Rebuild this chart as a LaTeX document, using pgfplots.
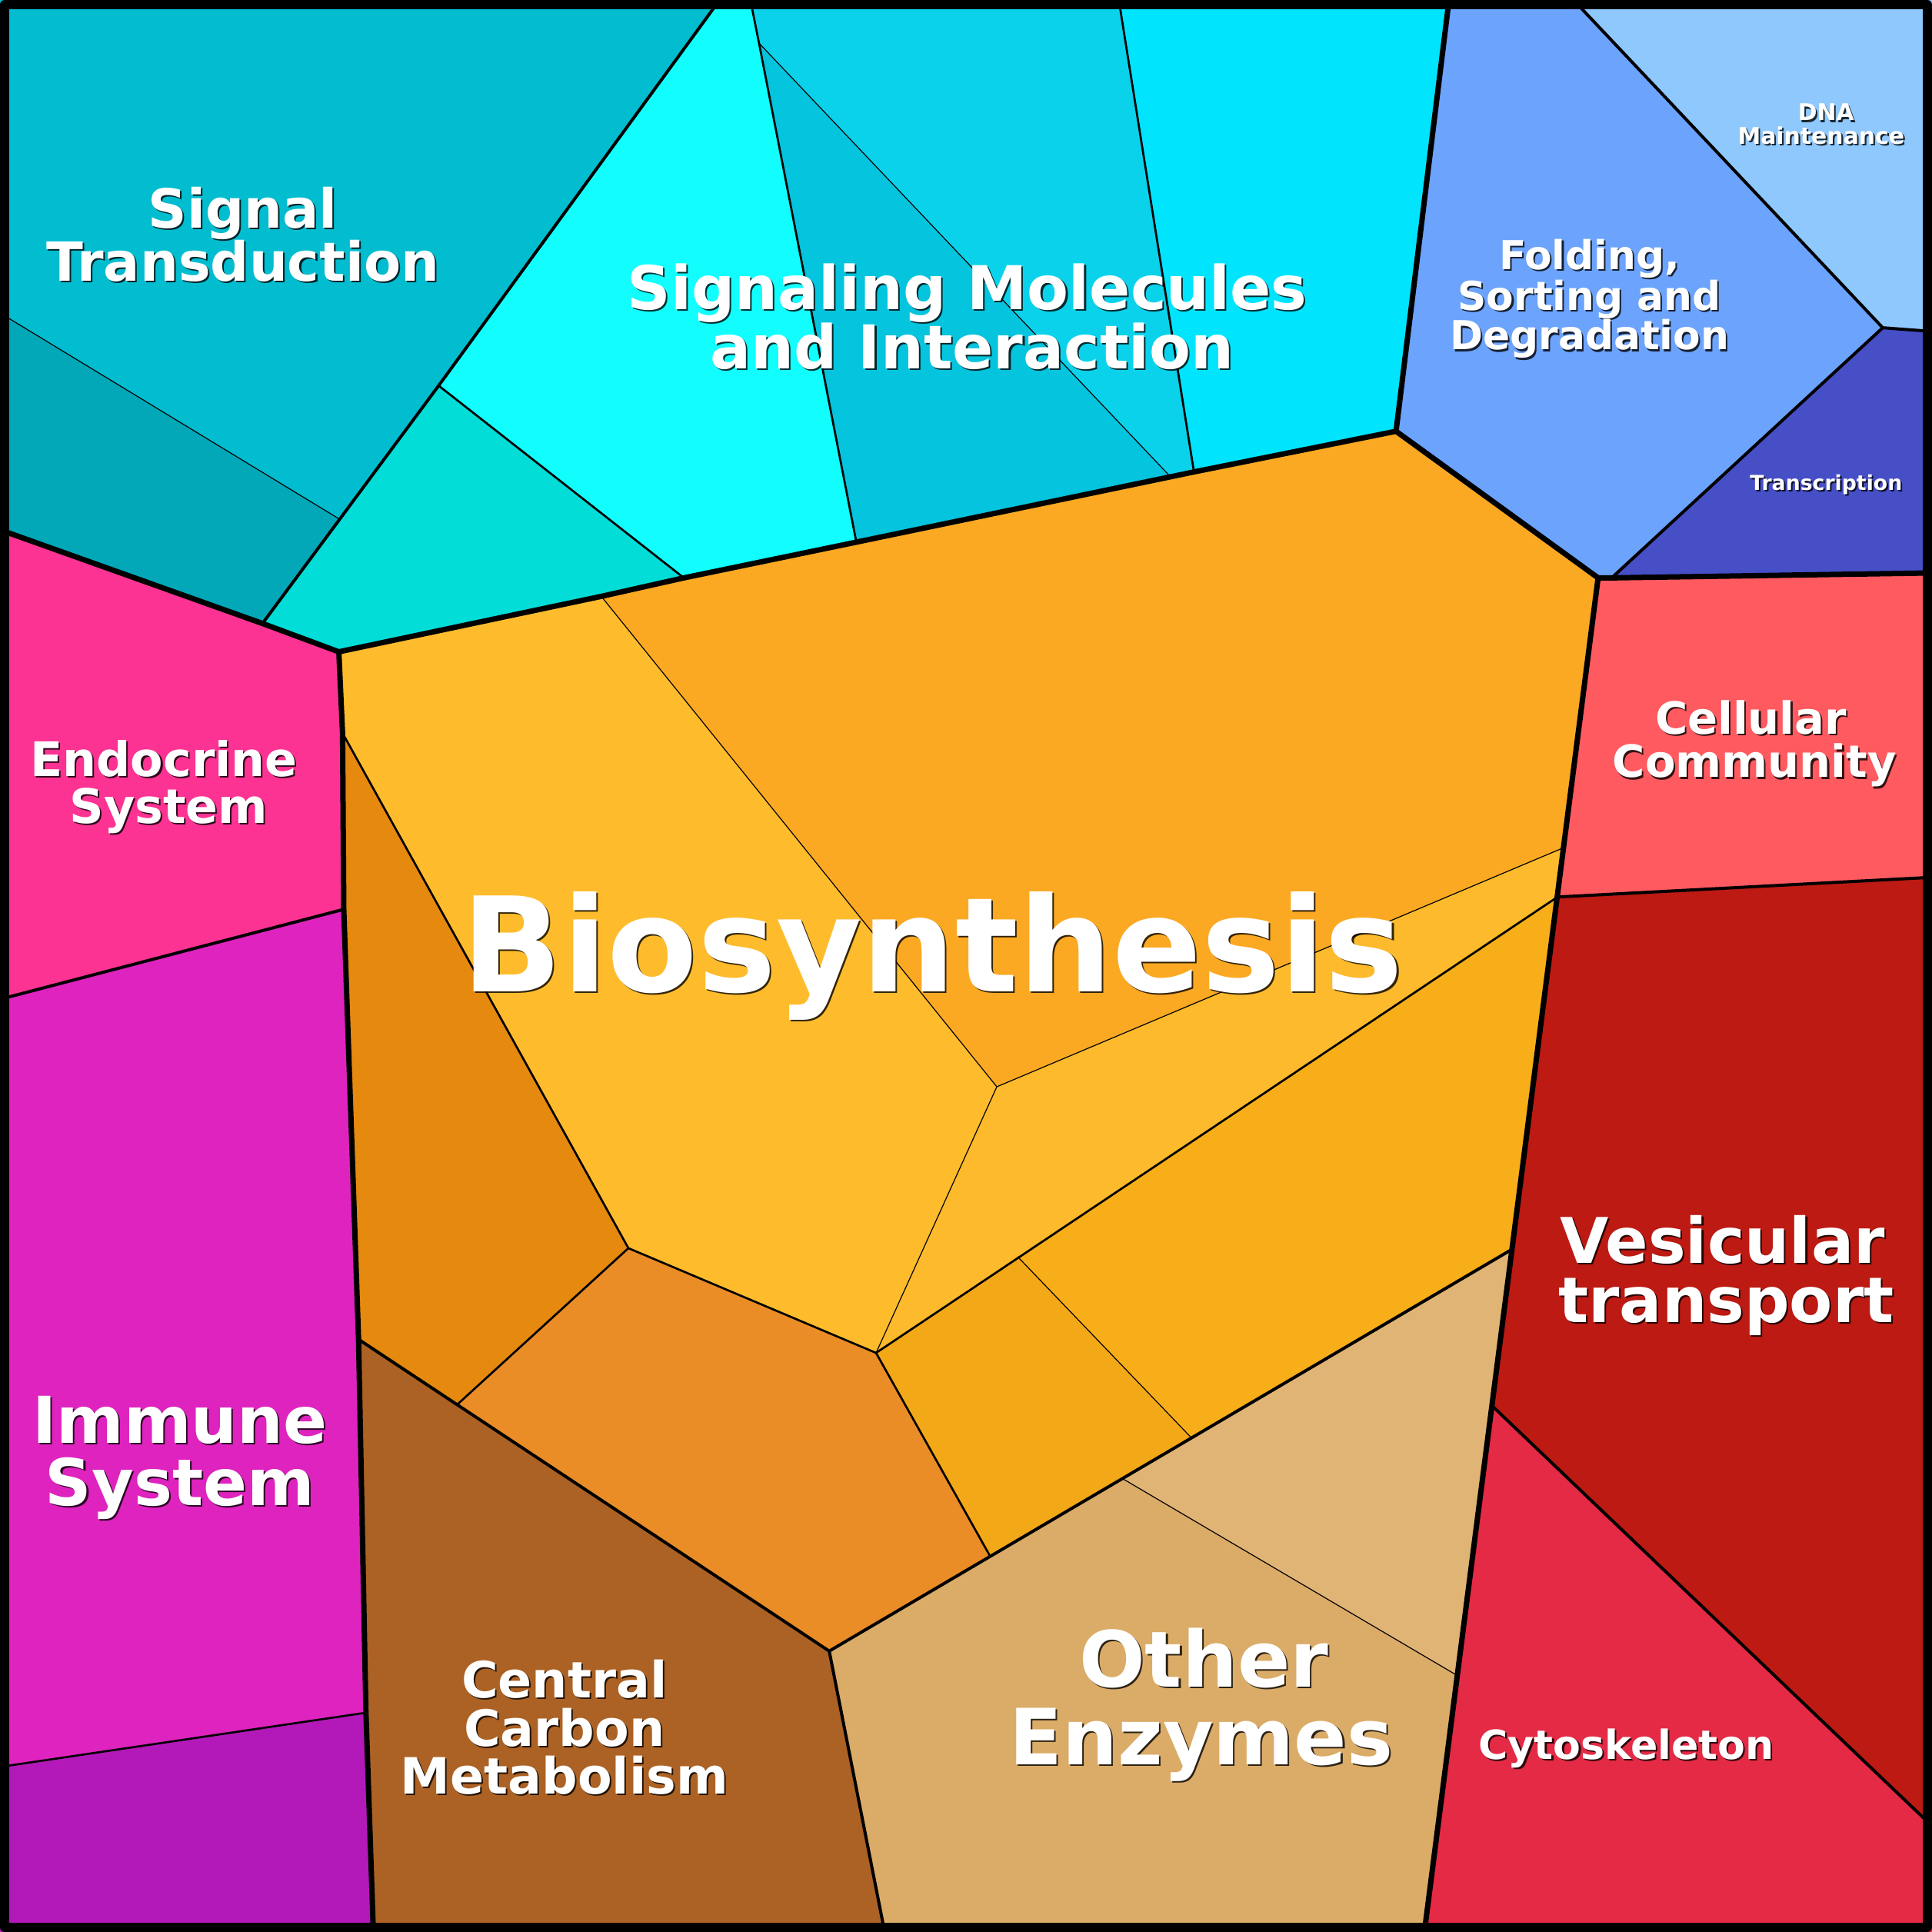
\documentclass[border=0pt]{standalone}
\usepackage{pgfplots}
\pgfplotsset{compat=1.18}
\usepackage{fontspec}
\setmainfont{DejaVu Sans}
\definecolor{cST}{HTML}{02BCCF}
\definecolor{cSTb}{HTML}{03A8B8}
\definecolor{cBC}{HTML}{12FEFE}
\definecolor{cTQ}{HTML}{03DDD8}
\definecolor{cTM}{HTML}{0BD2EB}
\definecolor{cMD}{HTML}{05C4DD}
\definecolor{cRC}{HTML}{00E4FE}
\definecolor{cFO}{HTML}{6CA3FD}
\definecolor{cDNA}{HTML}{8FC8FC}
\definecolor{cTR}{HTML}{464FC6}
\definecolor{cCC}{HTML}{FF5A60}
\definecolor{cVT}{HTML}{BC1A13}
\definecolor{cCY}{HTML}{E42A45}
\definecolor{cOEa}{HTML}{E0B474}
\definecolor{cOEb}{HTML}{DBAB68}
\definecolor{cCCM}{HTML}{AC6224}
\definecolor{cIM}{HTML}{DF23BF}
\definecolor{cIMb}{HTML}{B319B8}
\definecolor{cEN}{HTML}{FC3393}
\definecolor{cB1}{HTML}{FBA923}
\definecolor{cB2}{HTML}{FEBC2D}
\definecolor{cB3}{HTML}{E5890F}
\definecolor{cB4}{HTML}{EA8D27}
\definecolor{cB5}{HTML}{FCBA2C}
\definecolor{cB6}{HTML}{F8AE18}
\definecolor{cB7}{HTML}{F3A817}
\newcommand{\lbl}[4]{%
  \node[anchor=base, inner sep=0pt, text=black, opacity=0.8, font=\fontsize{#3}{#3}\selectfont\bfseries, xshift=0.6pt, yshift=-0.6pt] at (axis cs:#1,#2) {#4};
  \node[anchor=base, inner sep=0pt, text=white, font=\fontsize{#3}{#3}\selectfont\bfseries] at (axis cs:#1,#2) {#4};}
\begin{document}
\begin{tikzpicture}
\begin{axis}[name=ax, width=251.2mm, height=251.2mm, scale only axis,
  xmin=0, xmax=1568, ymin=0, ymax=1568, y dir=reverse, hide axis]
% ---- cells ----
\addplot[fill=cST, draw=none] coordinates {(0,0)(584,0)(356,313)(275,421)(0,254)} --cycle;
\addplot[fill=cSTb, draw=none] coordinates {(0,254)(275,421)(213,506)(0,430)} --cycle;
\addplot[fill=cBC, draw=none] coordinates {(584,0)(609,0)(616,35)(695,440)(555,469)(356,313)} --cycle;
\addplot[fill=cTQ, draw=none] coordinates {(356,313)(555,469)(275,529)(213,506)} --cycle;
\addplot[fill=cTM, draw=none] coordinates {(609,0)(908,0)(969,383)(950,387)(616,35)} --cycle;
\addplot[fill=cMD, draw=none] coordinates {(616,35)(950,387)(695,440)} --cycle;
\addplot[fill=cRC, draw=none] coordinates {(908,0)(1176,0)(1133,350)(969,383)} --cycle;
\addplot[fill=cFO, draw=none] coordinates {(1176,0)(1277,0)(1528,266)(1308,469)(1297,469)(1133,350)} --cycle;
\addplot[fill=cDNA, draw=none] coordinates {(1277,0)(1568,0)(1568,269)(1528,266)} --cycle;
\addplot[fill=cTR, draw=none] coordinates {(1528,266)(1568,269)(1568,465)(1308,469)} --cycle;
\addplot[fill=cCC, draw=none] coordinates {(1297,469)(1568,465)(1568,712)(1264,728)} --cycle;
\addplot[fill=cVT, draw=none] coordinates {(1264,728)(1568,712)(1568,1482)(1211,1141)} --cycle;
\addplot[fill=cCY, draw=none] coordinates {(1211,1141)(1568,1482)(1568,1568)(1156,1568)} --cycle;
\addplot[fill=cOEa, draw=none] coordinates {(1227,1014)(1183,1360)(911,1200)(967,1167)} --cycle;
\addplot[fill=cOEb, draw=none] coordinates {(911,1200)(1183,1360)(1156,1568)(718,1568)(673,1340)(803,1262)} --cycle;
\addplot[fill=cCCM, draw=none] coordinates {(291,1087)(371,1140)(673,1340)(718,1568)(303,1568)} --cycle;
\addplot[fill=cIM, draw=none] coordinates {(0,811)(279,738)(291,1087)(297,1390)(0,1434)} --cycle;
\addplot[fill=cIMb, draw=none] coordinates {(0,1434)(297,1390)(303,1568)(0,1568)} --cycle;
\addplot[fill=cEN, draw=none] coordinates {(0,430)(213,506)(275,529)(278,595)(279,738)(0,811)} --cycle;
\addplot[fill=cB1, draw=none] coordinates {(488,484)(555,469)(695,440)(969,383)(1133,350)(1297,469)(1269,688)(809,882)} --cycle;
\addplot[fill=cB2, draw=none] coordinates {(275,529)(488,484)(809,882)(711,1098)(510,1013)(278,595)} --cycle;
\addplot[fill=cB3, draw=none] coordinates {(278,595)(510,1013)(371,1140)(291,1087)(279,738)} --cycle;
\addplot[fill=cB4, draw=none] coordinates {(371,1140)(510,1013)(711,1098)(803,1262)(673,1340)} --cycle;
\addplot[fill=cB5, draw=none] coordinates {(809,882)(1269,688)(1264,728)(711,1098)} --cycle;
\addplot[fill=cB6, draw=none] coordinates {(826,1020)(1264,728)(1227,1014)(967,1167)} --cycle;
\addplot[fill=cB7, draw=none] coordinates {(711,1098)(826,1020)(967,1167)(803,1262)} --cycle;
% ---- level 4 borders ----
\pgfplotsset{every axis plot/.append style={line join=round, line cap=round}}
\addplot[black, line width=0.12mm] coordinates {(0,254)(275,421)};
\addplot[black, line width=0.12mm] coordinates {(616,35)(950,387)};
\addplot[black, line width=0.12mm] coordinates {(488,484)(809,882)(1269,688)};
\addplot[black, line width=0.12mm] coordinates {(809,882)(711,1098)};
\addplot[black, line width=0.12mm] coordinates {(826,1020)(967,1167)};
\addplot[black, line width=0.12mm] coordinates {(911,1200)(1183,1360)};
% ---- level 3 borders ----
\addplot[black, line width=0.27mm] coordinates {(609,0)(616,35)(695,440)};
\addplot[black, line width=0.27mm] coordinates {(908,0)(969,383)};
\addplot[black, line width=0.27mm] coordinates {(356,313)(555,469)};
\addplot[black, line width=0.27mm] coordinates {(0,1434)(297,1390)};
\addplot[black, line width=0.27mm] coordinates {(278,595)(510,1013)(371,1140)};
\addplot[black, line width=0.27mm] coordinates {(510,1013)(711,1098)(803,1262)};
\addplot[black, line width=0.27mm] coordinates {(711,1098)(1264,728)};
% ---- level 2 borders ----
\addplot[black, line width=0.4mm] coordinates {(584,0)(356,313)(213,506)};
\addplot[black, line width=0.4mm] coordinates {(1277,0)(1528,266)(1308,469)};
\addplot[black, line width=0.4mm] coordinates {(1528,266)(1568,269)};
\addplot[black, line width=0.4mm] coordinates {(1264,728)(1568,712)};
\addplot[black, line width=0.4mm] coordinates {(1211,1141)(1568,1482)};
\addplot[black, line width=0.4mm] coordinates {(0,811)(279,738)};
\addplot[black, line width=0.4mm] coordinates {(291,1087)(371,1140)(673,1340)(718,1568)};
\addplot[black, line width=0.4mm] coordinates {(673,1340)(1227,1014)};
% ---- level 1 borders ----
\addplot[black, line width=0.7mm] coordinates {(0,430)(213,506)(275,529)(488,484)(555,469)(695,440)(969,383)(1133,350)(1297,469)(1308,469)(1568,465)};
\addplot[black, line width=0.7mm] coordinates {(1133,350)(1176,0)};
\addplot[black, line width=0.7mm] coordinates {(1297,469)(1156,1568)};
\addplot[black, line width=0.7mm] coordinates {(275,529)(278,595)(279,738)(291,1087)(297,1390)(303,1568)};
% ---- outer frame ----
\draw[black, line width=1.2mm, line join=round] (axis cs:3.75,3.75) rectangle (axis cs:1564.25,1564.25);
% ---- labels ----
\lbl{197}{185}{19.95}{Signal}
\lbl{197}{228}{19.95}{Transduction}
\lbl{785}{251}{22.35}{Signaling Molecules}
\lbl{789}{299}{22.35}{and Interaction}
\lbl{1290}{219}{14.75}{Folding,}
\lbl{1290}{252}{14.75}{Sorting and}
\lbl{1290}{284}{14.75}{Degradation}
\lbl{1482}{98}{8.5}{DNA}
\lbl{1478}{117}{8.5}{Maintenance}
\lbl{1482}{398}{7.6}{Transcription}
\lbl{133}{630}{17.6}{Endocrine}
\lbl{137}{668}{17.6}{System}
\lbl{757}{805}{48.7}{Biosynthesis}
\lbl{1421}{596}{16.4}{Cellular}
\lbl{1424}{631}{16.4}{Community}
\lbl{1398}{1025}{23.3}{Vesicular}
\lbl{1401}{1073}{23.3}{transport}
\lbl{146}{1171}{23.9}{Immune}
\lbl{146}{1222}{23.9}{System}
\lbl{458}{1378}{18.5}{Central}
\lbl{458}{1417}{18.5}{Carbon}
\lbl{458}{1456}{18.5}{Metabolism}
\lbl{977}{1369}{28.7}{Other}
\lbl{975}{1432}{28.7}{Enzymes}
\lbl{1320}{1428}{14.85}{Cytoskeleton}
\end{axis}
\pgfresetboundingbox
\path[use as bounding box] (ax.south west) rectangle (ax.north east);
\end{tikzpicture}
\end{document}
